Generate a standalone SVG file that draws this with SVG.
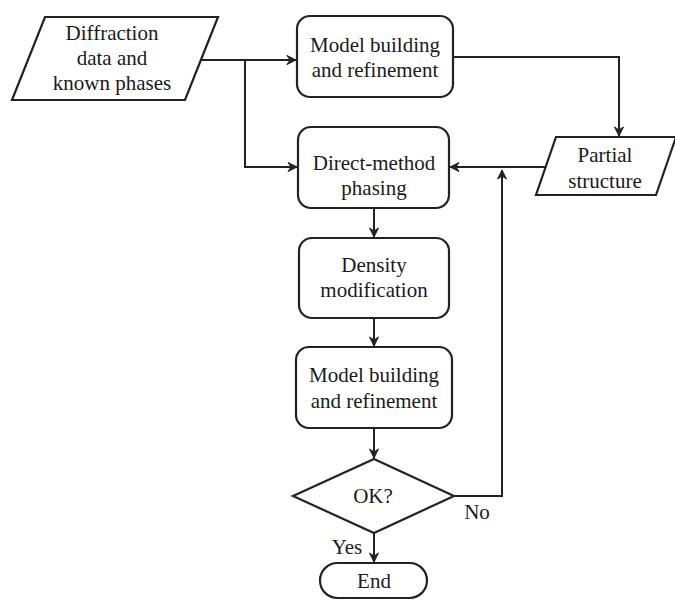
<svg xmlns="http://www.w3.org/2000/svg" width="675" height="600" viewBox="0 0 675 600" font-family="Liberation Serif, serif">
<style>
.s{fill:#fff;stroke:#222;stroke-width:2.2}
.c{fill:none;stroke:#222;stroke-width:2}
text{font-size:21px;fill:#1a1a1a;text-anchor:middle}
</style>
<defs>
<marker id="a" markerWidth="12" markerHeight="12" refX="10" refY="6" orient="auto" markerUnits="userSpaceOnUse">
<path d="M1,1.5 L10,6 L1,10.5 L4,6 Z" fill="#222" stroke="#222" stroke-width="1" stroke-linejoin="round"/>
</marker>
</defs>
<rect width="675" height="600" fill="#fff"/>
<g id="connectors">
<path class="c" d="M201,60 H296" marker-end="url(#a)"/>
<path class="c" d="M245,60 V167 H297" marker-end="url(#a)"/>
<path class="c" d="M453,57 H619 V136" marker-end="url(#a)"/>
<path class="c" d="M546,167 H450" marker-end="url(#a)"/>
<path class="c" d="M453,496 H502 V170" marker-end="url(#a)"/>
<path class="c" d="M374,208 V237" marker-end="url(#a)"/>
<path class="c" d="M374,318 V346" marker-end="url(#a)"/>
<path class="c" d="M374,428 V458" marker-end="url(#a)"/>
<path class="c" d="M374,533 V562" marker-end="url(#a)"/>
</g>
<g id="n-input">
<polygon class="s" points="45,17 218,17 185,100 12,100"/>
<text x="112" y="40">Diffraction</text>
<text x="112" y="65">data and</text>
<text x="112" y="90">known phases</text>
</g>
<g id="n-model1">
<rect class="s" x="297" y="16" width="156" height="81" rx="13"/>
<text x="375" y="52">Model building</text>
<text x="375" y="77">and refinement</text>
</g>
<g id="n-partial">
<polygon class="s" points="556,137 676,137 656,195 536,195"/>
<text x="605" y="162">Partial</text>
<text x="605" y="188">structure</text>
</g>
<g id="n-direct">
<rect class="s" x="298" y="127" width="151" height="81" rx="13"/>
<text x="374" y="170">Direct-method</text>
<text x="374" y="195">phasing</text>
</g>
<g id="n-density">
<rect class="s" x="299" y="238" width="150" height="80" rx="13"/>
<text x="374" y="272">Density</text>
<text x="374" y="297">modification</text>
</g>
<g id="n-model2">
<rect class="s" x="296" y="347" width="156" height="81" rx="13"/>
<text x="374" y="382">Model building</text>
<text x="374" y="408">and refinement</text>
</g>
<g id="n-ok">
<polygon class="s" points="374,459 454,496 374,533 293,496"/>
<text x="373" y="503">OK?</text>
</g>
<text x="477" y="519">No</text>
<text x="347" y="554">Yes</text>
<g id="n-end">
<rect class="s" x="320" y="563" width="107" height="35" rx="17.5"/>
<text x="374" y="588">End</text>
</g>
</svg>
